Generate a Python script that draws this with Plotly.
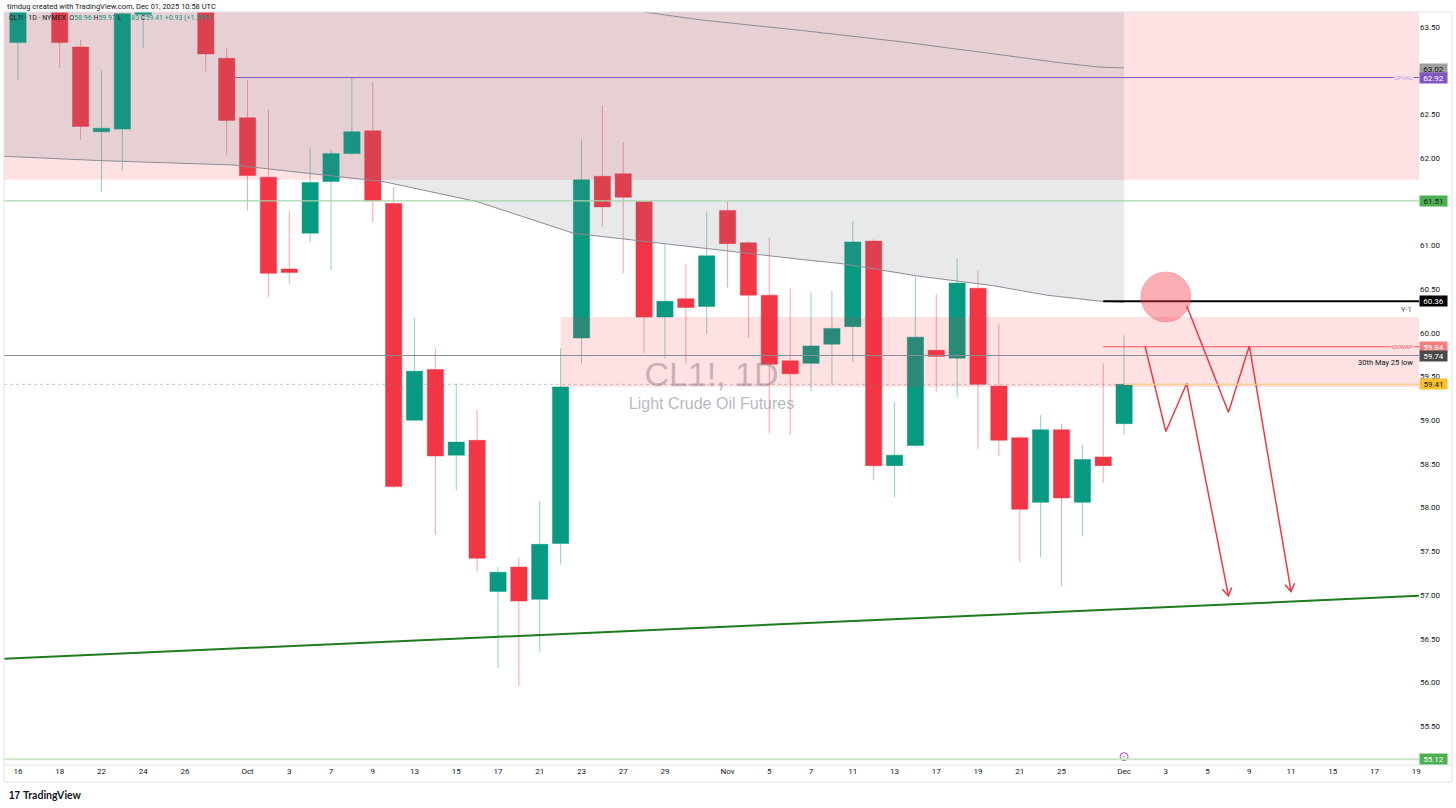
import math
import plotly.graph_objects as go

# ---------------- data ----------------
dates = ["2025-09-16", "2025-09-17", "2025-09-18", "2025-09-19", "2025-09-22", "2025-09-23",
         "2025-09-24", "2025-09-25", "2025-09-26", "2025-09-29", "2025-09-30",
         "2025-10-01", "2025-10-02", "2025-10-03", "2025-10-06", "2025-10-07", "2025-10-08",
         "2025-10-09", "2025-10-10", "2025-10-13", "2025-10-14", "2025-10-15", "2025-10-16",
         "2025-10-17", "2025-10-20", "2025-10-21", "2025-10-22", "2025-10-23", "2025-10-24",
         "2025-10-27", "2025-10-28", "2025-10-29", "2025-10-30", "2025-10-31",
         "2025-11-03", "2025-11-04", "2025-11-05", "2025-11-06", "2025-11-07", "2025-11-10",
         "2025-11-11", "2025-11-12", "2025-11-13", "2025-11-14", "2025-11-17", "2025-11-18",
         "2025-11-19", "2025-11-20", "2025-11-21", "2025-11-24", "2025-11-25", "2025-11-26",
         "2025-11-28", "2025-12-01"]
opens = [63.32, 64.55, 64.10, 63.27, 62.30, 62.33, 63.64, 64.80, 65.00, 65.60, 63.14,
         62.46, 61.78, 60.73, 61.14, 61.73, 62.05, 62.31, 61.48, 59.00, 59.58, 58.60, 58.77,
         57.04, 57.32, 56.95, 57.59, 59.94, 61.79, 61.82, 61.50, 60.18, 60.39, 60.30,
         61.40, 61.03, 60.43, 59.68, 59.65, 59.87, 60.07, 61.05, 58.48, 58.71, 59.80, 59.71,
         60.51, 59.39, 58.80, 58.06, 58.89, 58.06, 58.58, 58.96]
highs = [64.65, 64.75, 64.35, 63.35, 63.00, 63.90, 64.95, 65.30, 65.80, 65.70, 63.26,
         62.89, 62.55, 61.39, 62.12, 62.10, 62.92, 62.87, 61.67, 60.17, 59.82, 59.42, 59.12,
         57.32, 57.43, 58.08, 59.82, 62.21, 62.60, 62.18, 61.52, 61.02, 60.79, 61.38,
         61.50, 61.05, 61.09, 60.51, 60.46, 60.48, 61.28, 61.07, 59.21, 60.64, 60.44, 60.85,
         60.71, 60.10, 58.82, 59.06, 58.96, 58.72, 59.65, 59.97]
lows = [62.89, 63.75, 63.03, 62.21, 61.61, 61.85, 63.26, 64.20, 64.70, 62.99, 62.03,
        61.40, 60.41, 60.56, 61.04, 60.72, 62.03, 61.26, 58.22, 58.99, 57.69, 58.20, 57.27,
        56.16, 55.96, 56.35, 57.35, 59.65, 61.21, 60.68, 59.77, 59.71, 59.65, 59.99,
        60.52, 59.94, 58.85, 58.83, 59.33, 59.41, 59.66, 58.31, 58.12, 58.69, 59.32, 59.26,
        58.67, 58.59, 57.38, 57.43, 57.10, 57.67, 58.28, 58.83]
closes = [64.52, 64.05, 63.32, 62.36, 62.34, 63.65, 64.80, 64.98, 65.72, 63.19, 62.43,
          61.80, 60.68, 60.69, 61.72, 62.05, 62.30, 61.51, 58.24, 59.56, 58.59, 58.75, 57.42,
          57.26, 56.93, 57.58, 59.38, 61.75, 61.44, 61.55, 60.18, 60.36, 60.29, 60.88,
          61.02, 60.43, 59.64, 59.53, 59.85, 60.05, 61.04, 58.48, 58.60, 59.95, 59.73, 60.57,
          59.41, 58.77, 57.98, 58.89, 58.11, 58.55, 58.48, 59.41]
future_dates = ["2025-12-02", "2025-12-03", "2025-12-04", "2025-12-05", "2025-12-08",
                "2025-12-09", "2025-12-10", "2025-12-11", "2025-12-12", "2025-12-15",
                "2025-12-16", "2025-12-17", "2025-12-18", "2025-12-19"]

tick_dates = ["2025-09-16", "2025-09-18", "2025-09-22", "2025-09-24", "2025-09-26",
              "2025-10-01", "2025-10-03", "2025-10-07", "2025-10-09", "2025-10-13",
              "2025-10-15", "2025-10-17", "2025-10-21", "2025-10-23", "2025-10-27",
              "2025-10-29", "2025-11-03", "2025-11-05", "2025-11-07", "2025-11-11",
              "2025-11-13", "2025-11-17", "2025-11-19", "2025-11-21", "2025-11-25",
              "2025-12-01", "2025-12-03", "2025-12-05", "2025-12-09", "2025-12-11",
              "2025-12-15", "2025-12-17", "2025-12-19"]
tick_labels = ["16", "18", "22", "24", "26", "Oct", "3", "7", "9", "13", "15", "17", "21",
               "23", "27", "29", "Nov", "5", "7", "11", "13", "17", "19", "21", "25", "Dec",
               "3", "5", "9", "11", "15", "17", "19"]
# 61.50 and 63.00 sit under the 61.51 / 63.02 scale labels in the reference
price_ticks = [55.5, 56.0, 56.5, 57.0, 57.5, 58.0, 58.5, 59.0, 59.5, 60.0, 60.5, 61.0,
               62.0, 62.5, 63.5]

# indicator bands (bar index, price)
band_lower_x = [-0.7, 3.9, 10.3, 15.4, 17.5, 22.0, 26.6, 29.5, 33.0, 37.5, 39.5, 43.1,
                46.7, 49.3, 51.9, 53.0]
band_lower_y = [62.02, 61.97, 61.92, 61.78, 61.73, 61.50, 61.14, 61.06, 60.96, 60.84,
                60.79, 60.65, 60.54, 60.43, 60.36, 60.35]
band_upper_x = [27.3, 32.7, 37.5, 42.3, 47.1, 49.9, 51.8, 53.0]
band_upper_y = [63.76, 63.58, 63.46, 63.33, 63.18, 63.09, 63.04, 63.03]

# levels
supply_zone = (61.75, 63.67)
mid_zone = (59.38, 60.18)
level_green = 61.51
level_qpval = 62.92
level_y1 = 60.36
level_qvwap = 59.84
level_may_low = 59.74
level_last = 59.41
level_bottom = 55.12
trend_x = [-0.67, 67.13]
trend_y = [56.27, 56.99]

# projected path
path1_dates = ["2025-12-02", "2025-12-03", "2025-12-04", "2025-12-08"]
path1_prices = [59.85, 58.87, 59.42, 56.99]
path2_dates = ["2025-12-04", "2025-12-08", "2025-12-09", "2025-12-11"]
path2_prices = [60.31, 59.09, 59.85, 57.04]
circle_date = "2025-12-03"
circle_price = 60.41

# ---------------- geometry ----------------
W, H = 1456, 808
ML, MR, MT, MB = 4, 37, 12, 43
PW, PH = W - ML - MR, H - MT - MB
x_range = [-0.67, 67.13]
y_range = [55.055, 63.67]
sx = PW / (x_range[1] - x_range[0])
sy = PH / (y_range[1] - y_range[0])

all_dates = dates + future_dates
pos = {d: i for i, d in enumerate(all_dates)}
idx = [pos[d] for d in dates]

GREEN = "#089981"
RED = "#f23645"
PINK = "rgba(242,54,69,0.15)"

fig = go.Figure()

# gray fill above the lower band
fx = band_lower_x + [band_lower_x[-1], band_lower_x[0]]
fy = band_lower_y + [y_range[1] + 1, y_range[1] + 1]
fig.add_trace(go.Scatter(x=fx, y=fy, fill="toself", mode="none",
                         fillcolor="rgba(120,123,134,0.17)", hoverinfo="skip", showlegend=False))

# watermark
xm = sum(x_range) / 2
ym = sum(y_range) / 2
fig.add_trace(go.Scatter(x=[xm], y=[ym + 11.5 / sy], mode="text", text=["CL1!, 1D"],
                         textfont=dict(family="Liberation Sans", size=34,
                                       color="rgba(120,123,134,0.45)"),
                         hoverinfo="skip", showlegend=False))
fig.add_trace(go.Scatter(x=[xm], y=[ym - 16.5 / sy], mode="text",
                         text=["Light Crude Oil Futures"],
                         textfont=dict(family="Liberation Sans", size=16,
                                       color="rgba(120,123,134,0.55)"),
                         hoverinfo="skip", showlegend=False))

# bands
fig.add_trace(go.Scatter(x=band_lower_x, y=band_lower_y, mode="lines",
                         line=dict(color="#8a8d96", width=1), hoverinfo="skip", showlegend=False))
fig.add_trace(go.Scatter(x=band_upper_x, y=band_upper_y, mode="lines",
                         line=dict(color="#8a8d96", width=1), hoverinfo="skip", showlegend=False))

# candles
fig.add_trace(go.Candlestick(
    x=idx, open=opens, high=highs, low=lows, close=closes,
    increasing=dict(line=dict(color="rgba(8,153,129,0.45)", width=1), fillcolor=GREEN),
    decreasing=dict(line=dict(color="rgba(242,54,69,0.45)", width=1), fillcolor=RED),
    whiskerwidth=0, showlegend=False, hoverinfo="skip"))

# trendline
fig.add_trace(go.Scatter(x=trend_x, y=trend_y, mode="lines",
                         line=dict(color="#1e7b1e", width=2), hoverinfo="skip", showlegend=False))


# projected red paths with open arrowheads
def arrow_head(x0, y0, x1, y1, length=9, ang=32):
    dx, dy = (x1 - x0) * sx, (y1 - y0) * sy
    n = math.hypot(dx, dy)
    ux, uy = -dx / n, -dy / n
    pts = []
    for a in (ang, -ang):
        r = math.radians(a)
        vx = ux * math.cos(r) - uy * math.sin(r)
        vy = ux * math.sin(r) + uy * math.cos(r)
        pts.append((x1 + vx * length / sx, y1 + vy * length / sy))
    return [pts[0][0], x1, pts[1][0]], [pts[0][1], y1, pts[1][1]]


for pd_, pp in ((path1_dates, path1_prices), (path2_dates, path2_prices)):
    px = [pos[d] for d in pd_]
    fig.add_trace(go.Scatter(x=px, y=pp, mode="lines", line=dict(color=RED, width=1.5),
                             hoverinfo="skip", showlegend=False))
    hx, hy = arrow_head(px[-2], pp[-2], px[-1], pp[-1])
    fig.add_trace(go.Scatter(x=hx, y=hy, mode="lines", line=dict(color=RED, width=1.5),
                             hoverinfo="skip", showlegend=False))

# event marker
fig.add_trace(go.Scatter(x=[pos["2025-12-01"]], y=[55.15], mode="markers",
                         marker=dict(symbol="circle-open-dot", size=8,
                                     color="#ab47bc", line=dict(width=1)),
                         hoverinfo="skip", showlegend=False))

shapes = []
# supply zone (below)
shapes.append(dict(type="rect", xref="paper", yref="y", x0=0, x1=1,
                   y0=supply_zone[0], y1=supply_zone[1], fillcolor=PINK, line=dict(width=0),
                   layer="below"))
# mid zone (above candles)
shapes.append(dict(type="rect", xref="x", yref="y", x0=pos["2025-10-22"], x1=x_range[1],
                   y0=mid_zone[0], y1=mid_zone[1], fillcolor=PINK, line=dict(width=0),
                   layer="above"))
# horizontal levels
shapes.append(dict(type="line", xref="paper", yref="y", x0=0, x1=1, y0=level_green,
                   y1=level_green, line=dict(color="#a5d6a7", width=1.2)))
shapes.append(dict(type="line", xref="x", yref="y", x0=10.4, x1=x_range[1], y0=level_qpval,
                   y1=level_qpval, line=dict(color="#7e57c2", width=1)))
shapes.append(dict(type="line", xref="x", yref="y", x0=pos["2025-11-28"], x1=x_range[1],
                   y0=level_y1, y1=level_y1, line=dict(color="#000000", width=2)))
shapes.append(dict(type="line", xref="x", yref="y", x0=pos["2025-11-28"], x1=x_range[1],
                   y0=level_qvwap, y1=level_qvwap, line=dict(color="#f7525f", width=1.2)))
shapes.append(dict(type="line", xref="paper", yref="y", x0=0, x1=1, y0=level_may_low,
                   y1=level_may_low, line=dict(color="#8a8d96", width=1)))
shapes.append(dict(type="line", xref="paper", yref="y", x0=0, x1=1, y0=level_last,
                   y1=level_last, line=dict(color="rgba(120,123,134,0.45)", width=1, dash="dot")))
shapes.append(dict(type="line", xref="x", yref="y", x0=pos["2025-12-01"], x1=x_range[1],
                   y0=level_last, y1=level_last, line=dict(color="#ffcc80", width=1.2)))
shapes.append(dict(type="line", xref="paper", yref="y", x0=0, x1=1, y0=level_bottom,
                   y1=level_bottom, line=dict(color="#c8e6c9", width=2)))
# circle
cx = pos[circle_date]
r_px = 25
shapes.append(dict(type="circle", xref="x", yref="y", x0=cx - r_px / sx, x1=cx + r_px / sx,
                   y0=circle_price - r_px / sy, y1=circle_price + r_px / sy,
                   fillcolor="rgba(242,54,69,0.4)", line=dict(color="rgba(242,54,69,0.25)", width=1),
                   layer="above"))
# frame
shapes.append(dict(type="rect", xref="paper", yref="paper", x0=0, x1=(1452 - ML) / PW,
                   y0=-(782 - MT - PH) / PH, y1=1, line=dict(color="#e0e3eb", width=1),
                   fillcolor="rgba(0,0,0,0)", layer="above"))
shapes.append(dict(type="line", xref="paper", yref="paper", x0=0, x1=(1452 - ML) / PW,
                   y0=0, y1=0, line=dict(color="#e0e3eb", width=1)))

annotations = []
# price labels on the scale
price_labels = [
    (63.02, "#9e9e9e", "#131722"),
    (level_qpval, "#7e57c2", "#ffffff"),
    (level_green, "#4caf50", "#131722"),
    (level_y1, "#000000", "#ffffff"),
    (level_qvwap, "#f77c80", "#ffffff"),
    (level_may_low, "#4a4a4a", "#ffffff"),
    (level_last, "#fbc02d", "#131722"),
    (level_bottom, "#4caf50", "#ffffff"),
]
for p, bg, fg in price_labels:
    annotations.append(dict(x=1, xref="paper", xanchor="left", y=p, yref="y", yanchor="middle",
                            text=f"{p:.2f}", showarrow=False, bgcolor=bg, width=27, height=10,
                            borderpad=0, align="center",
                            font=dict(family="Roboto", size=8, color=fg)))


def xpaper(px_):
    return (px_ - ML) / PW


def ypaper(py_):
    return (MT + PH - py_) / PH


annotations += [
    dict(x=xpaper(1414), xref="paper", xanchor="right", y=level_qpval, yref="y", text="QPVAL",
         showarrow=False, bgcolor="#fde2e4", borderpad=0,
         font=dict(family="Roboto", size=6, color="#b39ddb")),
    dict(x=xpaper(1414), xref="paper", xanchor="right", y=level_qvwap, yref="y", text="QVWAP",
         showarrow=False, bgcolor="#fde2e4", borderpad=0,
         font=dict(family="Roboto", size=6, color="#f7525f")),
    dict(x=xpaper(1414), xref="paper", xanchor="right", y=level_y1, yref="y", yshift=-8,
         text="Y-1", showarrow=False, font=dict(family="Roboto", size=7.5, color="#555555")),
    dict(x=xpaper(1415), xref="paper", xanchor="right", y=level_may_low, yref="y", yshift=-6.5,
         text="30th May 25 low", showarrow=False,
         font=dict(family="Roboto", size=7.5, color="#131722")),
    dict(x=xpaper(5), xref="paper", xanchor="left", y=ypaper(6.5), yref="paper",
         yanchor="middle", showarrow=False,
         text="timdug created with TradingView.com, Dec 01, 2025 10:58 UTC",
         font=dict(family="Roboto", size=7.5, color="#131722")),
    dict(x=xpaper(7), xref="paper", xanchor="left", y=ypaper(18), yref="paper",
         yanchor="middle", showarrow=False,
         text=("CL1! · 1D · NYMEX&nbsp; O<span style='color:#089981'>58.96</span> "
               "H<span style='color:#089981'>59.97</span> "
               "L<span style='color:#089981'>58.83</span> "
               "C<span style='color:#089981'>59.41</span> "
               "<span style='color:#089981'>+0.93 (+1.59%)</span>"),
         font=dict(family="Roboto", size=7, color="#131722")),
    dict(x=xpaper(7), xref="paper", xanchor="left", y=ypaper(795), yref="paper",
         yanchor="middle", showarrow=False, text="<b>17</b>",
         font=dict(family="Liberation Sans", size=10, color="#131722")),
    dict(x=xpaper(21), xref="paper", xanchor="left", y=ypaper(795), yref="paper",
         yanchor="middle", showarrow=False, text="<b>TradingView</b>",
         font=dict(family="Lato", size=10.5, color="#131722")),
]

fig.update_layout(
    width=W, height=H,
    margin=dict(l=ML, r=MR, t=MT, b=MB, pad=0),
    paper_bgcolor="#ffffff", plot_bgcolor="#ffffff",
    showlegend=False,
    boxgap=0.22, boxgroupgap=0,
    shapes=shapes, annotations=annotations,
    xaxis=dict(type="linear", range=x_range, tickvals=[pos[d] for d in tick_dates],
               ticktext=tick_labels, showgrid=False, zeroline=False, ticks="",
               showline=False, rangeslider=dict(visible=False),
               tickfont=dict(family="Roboto", size=8, color="#131722")),
    yaxis=dict(range=y_range, side="right", tickvals=price_ticks,
               ticktext=[f"{v:.2f}" for v in price_ticks], showgrid=False, zeroline=False,
               ticks="", showline=False,
               tickfont=dict(family="Roboto", size=8, color="#131722")),
)

fig.write_html("out.html", config={"displayModeBar": False},
               post_script="document.body.style.margin='0';document.body.style.overflow='hidden';")
